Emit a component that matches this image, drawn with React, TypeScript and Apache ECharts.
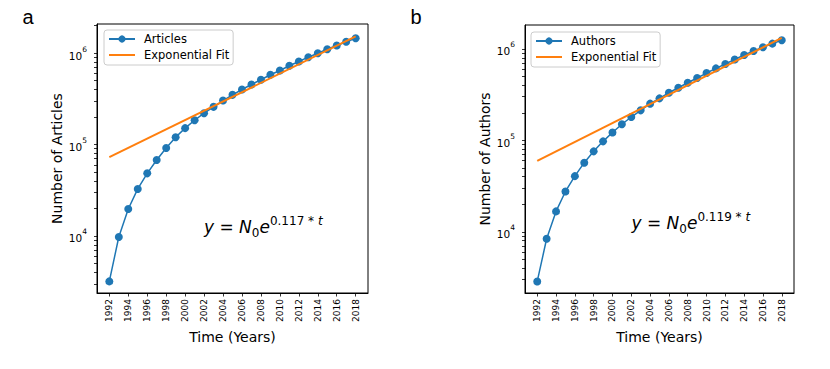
import React, { useEffect, useRef } from "react";
import * as echarts from "echarts";

const years = [1992, 1993, 1994, 1995, 1996, 1997, 1998, 1999, 2000, 2001, 2002, 2003, 2004, 2005, 2006, 2007, 2008, 2009, 2010, 2011, 2012, 2013, 2014, 2015, 2016, 2017, 2018];
const articles = [3190, 9750, 19700, 32700, 48400, 67800, 91700, 120000, 151000, 184000, 220000, 258000, 302000, 349000, 399000, 453000, 510000, 578000, 644000, 725000, 808000, 900000, 995000, 1100000, 1207000, 1325000, 1450000];
const authors = [2860, 8380, 16700, 27600, 40600, 57000, 75800, 97500, 122000, 150000, 180000, 213000, 252000, 288000, 332000, 376000, 427000, 481000, 545000, 613000, 684000, 768000, 858000, 949000, 1045000, 1144000, 1245000];
const fitYears = [1992, 2018];
const articlesFit = [72600, 1520000];
const authorsFit = [59600, 1320000];
const xTickLabels = [1992, 1994, 1996, 1998, 2000, 2002, 2004, 2006, 2008, 2010, 2012, 2014, 2016, 2018];
const yDecades = [4, 5, 6];
const panelLabels = ["a", "b"];
const rates = ["0.117", "0.119"];

const BLUE = "#1f77b4";
const ORANGE = "#ff7f0e";
const FONT = "DejaVu Sans";

function logTicks(lo: number, hi: number) {
  const out: number[] = [];
  for (let k = 3; k <= 6; k++) {
    for (let m = 1; m <= 9; m++) {
      const v = Math.log10(m * Math.pow(10, k));
      if (v >= lo && v <= hi) out.push(v);
    }
  }
  return out;
}

export default function App() {
  const ref = useRef<HTMLDivElement>(null);
  useEffect(() => {
    document.body.style.margin = "0";
    const chart = echarts.init(ref.current!, null, { renderer: "svg" });
    const grids = [
      { left: 97, top: 24, width: 271, height: 269 },
      { left: 525, top: 25, width: 269, height: 268 },
    ];
    const yRanges = [
      [3.377, 6.317],
      [3.33, 6.262],
    ];
    const yNames = ["Number of Articles", "Number of Authors"];
    const xAxes: any[] = [];
    const yAxes: any[] = [];
    grids.forEach((g, i) => {
      xAxes.push({
        type: "value",
        gridIndex: i,
        min: 1990.7,
        max: 2019.3,
        name: "Time (Years)",
        nameLocation: "middle",
        nameGap: 36,
        nameTextStyle: { fontFamily: FONT, fontSize: 14, color: "#000" },
        axisLine: { show: true, lineStyle: { color: "#000", width: 1 } },
        axisTick: { show: true, inside: false, length: 3.5, customValues: xTickLabels, lineStyle: { color: "#000", width: 0.8 } },
        axisLabel: { customValues: xTickLabels, rotate: 90, fontFamily: FONT, fontSize: 9, color: "#000", margin: 6, formatter: (v: number) => String(v) },
        splitLine: { show: false },
      });
      const [lo, hi] = yRanges[i];
      yAxes.push({
        type: "value",
        gridIndex: i,
        min: lo,
        max: hi,
        name: yNames[i],
        nameLocation: "middle",
        nameGap: 33,
        nameTextStyle: { fontFamily: FONT, fontSize: 14, color: "#000" },
        axisLine: { show: true, lineStyle: { color: "#000", width: 1 } },
        axisTick: { show: true, inside: false, length: 3, customValues: logTicks(lo, hi), lineStyle: { color: "#000", width: 0.8 } },
        axisLabel: {
          customValues: yDecades,
          margin: 10,
          color: "#000",
          formatter: (v: number) => `{b|10}{s|${Math.round(v)}}`,
          rich: {
            b: { fontFamily: FONT, fontSize: 10.5, color: "#000", lineHeight: 16, verticalAlign: "bottom" },
            s: { fontFamily: FONT, fontSize: 7.5, color: "#000", lineHeight: 9, verticalAlign: "top" },
          },
        },
        splitLine: { show: false },
      });
    });

    const mkFormula = (i: number, x: number, y: number) => ({
      type: "text",
      x,
      y,
      style: {
        text: `{i|y}{r| = }{i|N}{sub|0}{i|e}{sup|${rates[i]} * }{supi|t}`,
        verticalAlign: "middle",
        align: "left",
        rich: {
          i: { fontFamily: FONT, fontSize: 17, fontStyle: "italic", fill: "#000", lineHeight: 24, verticalAlign: "middle" },
          r: { fontFamily: FONT, fontSize: 17, fill: "#000", lineHeight: 24, verticalAlign: "middle" },
          sub: { fontFamily: FONT, fontSize: 12, fill: "#000", lineHeight: 18, verticalAlign: "bottom" },
          sup: { fontFamily: FONT, fontSize: 12, fill: "#000", lineHeight: 12, verticalAlign: "top" },
          supi: { fontFamily: FONT, fontSize: 12, fontStyle: "italic", fill: "#000", lineHeight: 12, verticalAlign: "top" },
        },
      },
    });

    const legendBase = {
      orient: "vertical",
      itemWidth: 26,
      itemHeight: 9,
      itemGap: 4,
      padding: [3, 4, 4, 4],
      backgroundColor: "rgba(255,255,255,0.8)",
      borderColor: "#cccccc",
      borderWidth: 1,
      borderRadius: 3,
      textStyle: { fontFamily: FONT, fontSize: 11.5, color: "#000", padding: [0, 0, 0, 4] },
    };
    const fitLegendItem = { name: "Exponential Fit", itemStyle: { opacity: 0 } };

    const option: any = {
      animation: false,
      grid: grids.map((g) => ({ ...g, show: true, borderColor: "#000", borderWidth: 1, backgroundColor: "transparent", outerBoundsMode: "none", containLabel: false })),
      xAxis: xAxes,
      yAxis: yAxes,
      legend: [
        { ...legendBase, left: 104, top: 30, data: ["Articles", fitLegendItem] },
        { ...legendBase, left: 531, top: 32, data: ["Authors", fitLegendItem] },
      ],
      series: [
        {
          name: "Articles",
          type: "line",
          xAxisIndex: 0,
          yAxisIndex: 0,
          data: years.map((yr, k) => [yr, Math.log10(articles[k])]),
          symbol: "circle",
          symbolSize: 8,
          itemStyle: { color: BLUE },
          lineStyle: { color: BLUE, width: 1.5 },
          z: 2,
        },
        {
          name: "Exponential Fit",
          type: "line",
          xAxisIndex: 0,
          yAxisIndex: 0,
          data: fitYears.map((yr, k) => [yr, Math.log10(articlesFit[k])]),
          symbol: "none",
          itemStyle: { color: ORANGE },
          lineStyle: { color: ORANGE, width: 2 },
          z: 3,
        },
        {
          name: "Authors",
          type: "line",
          xAxisIndex: 1,
          yAxisIndex: 1,
          data: years.map((yr, k) => [yr, Math.log10(authors[k])]),
          symbol: "circle",
          symbolSize: 8,
          itemStyle: { color: BLUE },
          lineStyle: { color: BLUE, width: 1.5 },
          z: 2,
        },
        {
          name: "Exponential Fit",
          type: "line",
          xAxisIndex: 1,
          yAxisIndex: 1,
          data: fitYears.map((yr, k) => [yr, Math.log10(authorsFit[k])]),
          symbol: "none",
          itemStyle: { color: ORANGE },
          lineStyle: { color: ORANGE, width: 2 },
          z: 3,
        },
      ],
      graphic: [
        { type: "text", x: 22.5, y: 17, style: { text: panelLabels[0], fontFamily: "Liberation Sans", fontSize: 20, fill: "#000", verticalAlign: "middle" } },
        { type: "text", x: 410.5, y: 17, style: { text: panelLabels[1], fontFamily: "Liberation Sans", fontSize: 20, fill: "#000", verticalAlign: "middle" } },
        mkFormula(0, 204, 227),
        mkFormula(1, 631.5, 223),
      ],
    };
    chart.setOption(option);
    return () => chart.dispose();
  }, []);
  return <div ref={ref} style={{ width: 830, height: 369 }} />;
}
